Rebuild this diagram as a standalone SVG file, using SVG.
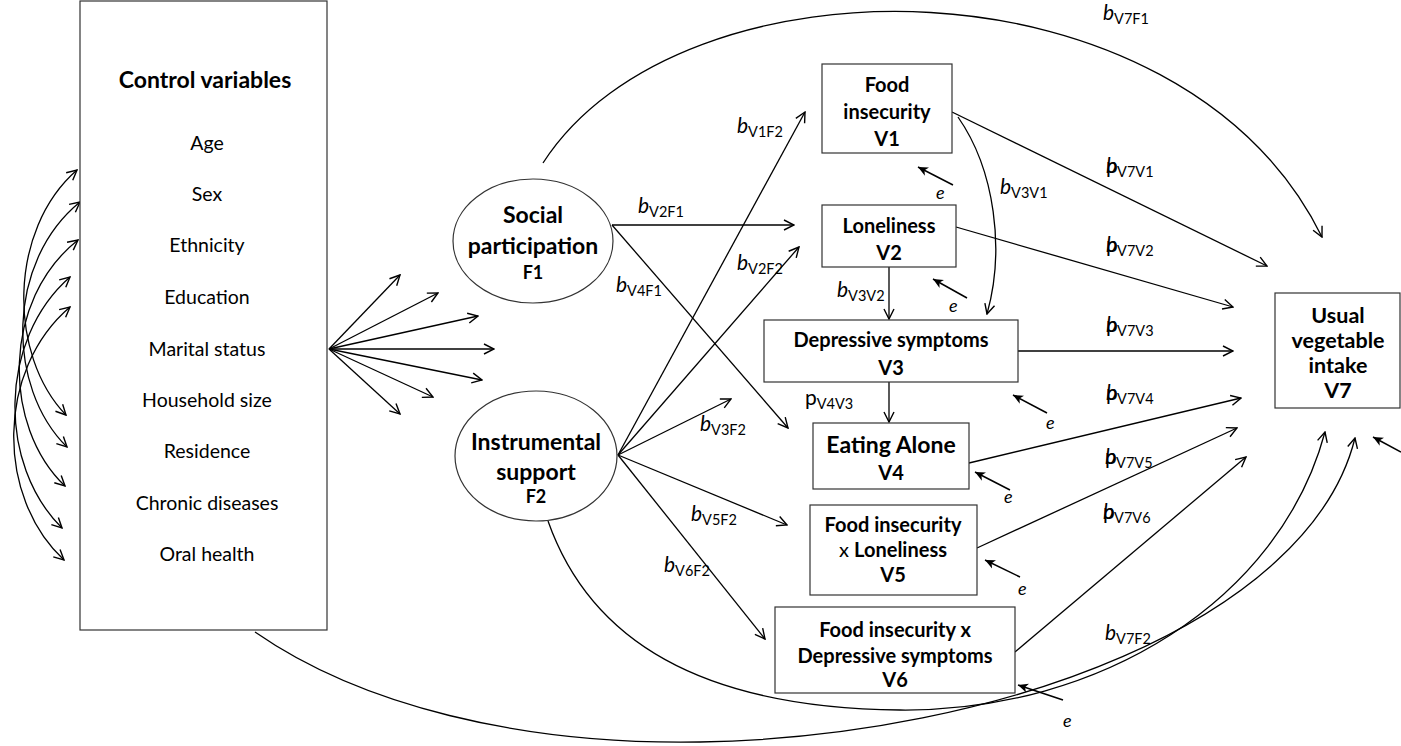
<svg xmlns="http://www.w3.org/2000/svg" width="1401" height="746" viewBox="0 0 1401 746">
  <defs>
    <marker id="arr" viewBox="0 0 12 12" refX="11" refY="6" markerWidth="12" markerHeight="12" markerUnits="userSpaceOnUse" orient="auto-start-reverse">
      <path d="M1,1 L11,6 L1,11" fill="none" stroke="#000" stroke-width="1.4"/>
    </marker>
    <marker id="err" viewBox="0 0 12 10" refX="11" refY="5" markerWidth="11" markerHeight="10" markerUnits="userSpaceOnUse" orient="auto">
      <path d="M0,0 L11,5 L0,10 L3,5 Z" fill="#000"/>
    </marker>
    <style>
      .box { fill: #fff; stroke: #333; stroke-width: 1.2; }
      .ell { fill: #fff; stroke: #333; stroke-width: 1.2; }
      .ln { fill: none; stroke: #000; stroke-width: 1.3; marker-end: url(#arr); }
      .dbl { fill: none; stroke: #000; stroke-width: 1.3; marker-start: url(#arr); marker-end: url(#arr); }
      .er { fill: none; stroke: #000; stroke-width: 1.5; marker-end: url(#err); }
      text { font-family: Lato, "Open Sans", "Liberation Sans", sans-serif; fill: #000; }
      .t { font-size: 20px; font-weight: bold; text-anchor: middle; }
      .tv { font-size: 21.5px; font-weight: bold; text-anchor: middle; }
      .tl { font-size: 23px; font-weight: bold; text-anchor: middle; }
      .tf { font-size: 18px; font-weight: bold; text-anchor: middle; }
      .cv { font-size: 19.5px; text-anchor: middle; }
      .lb { font-size: 21px; font-style: italic; }
      .lp { font-size: 21px; }
      .sub { font-size: 14.5px; font-style: normal; }
      .e { font-size: 18px; font-style: italic; }
    </style>
  </defs>

  <!-- connectors -->
  <g id="connectors">
    <!-- covariances among control variables -->
    <path class="dbl" d="M77,170 C 8,230 8,355 66,415"/>
    <path class="dbl" d="M80,202 C 6,262 6,387 67,447"/>
    <path class="dbl" d="M78,240 C 2,300 2,426 65,486"/>
    <path class="dbl" d="M70,277 C -2,340 -2,465 62,528"/>
    <path class="dbl" d="M70,307 C -4,370 -4,497 64,560"/>

    <!-- control variables fan -->
    <path class="ln" d="M329,349 L400,275"/>
    <path class="ln" d="M329,349 L438,293"/>
    <path class="ln" d="M329,349 L478,316"/>
    <path class="ln" d="M329,349 L494,349"/>
    <path class="ln" d="M329,349 L482,380"/>
    <path class="ln" d="M329,349 L433,397"/>
    <path class="ln" d="M329,349 L400,414"/>

    <!-- F1 paths -->
    <path class="ln" d="M543,163 C 680,-50 1180,-50 1322,237"/>
    <path class="ln" d="M612,225 L794,225"/>
    <path class="ln" d="M612,225 L788,428"/>

    <!-- F2 paths -->
    <path class="ln" d="M618,455 L805,112"/>
    <path class="ln" d="M618,455 L799,247"/>
    <path class="ln" d="M618,455 L731,399"/>
    <path class="ln" d="M618,455 L787,525"/>
    <path class="ln" d="M618,455 L765,639"/>
    <path class="ln" d="M548,521 C 590,640 700,708 900,710 C 1100,712 1280,600 1325,432"/>

    <!-- control variables to outcome -->
    <path class="ln" d="M255,632 C 360,705 520,745 700,742 C 1000,737 1310,620 1355,438"/>

    <!-- mediator paths -->
    <path class="ln" d="M889,267 L889,319"/>
    <path class="ln" d="M889,382 L889,422"/>
    <path class="ln" d="M958,117 C 995,170 1005,250 987,314"/>

    <!-- paths to V7 -->
    <path class="ln" d="M952,112 L1267,266"/>
    <path class="ln" d="M956,227 L1233,307"/>
    <path class="ln" d="M1018,351 L1233,351"/>
    <path class="ln" d="M969,463 L1241,398"/>
    <path class="ln" d="M977,548 L1237,428"/>
    <path class="ln" d="M1015,652 L1246,457"/>

    <!-- error terms -->
    <path class="er" d="M953,185 L918,167"/>
    <path class="er" d="M967,298 L933,279"/>
    <path class="er" d="M1047,413 L1013,395"/>
    <path class="er" d="M1010,490 L975,472"/>
    <path class="er" d="M1020,577 L985,560"/>
    <path class="er" d="M1063,700 L1018,685"/>
    <path class="er" d="M1401,452 L1373,437"/>
  </g>

  <!-- path labels -->
  <g id="labels">
    <text class="lb" x="1103" y="20">b<tspan class="sub" dy="4">V7F1</tspan></text>
    <text class="lb" x="638" y="213">b<tspan class="sub" dy="4">V2F1</tspan></text>
    <text class="lb" x="616" y="292">b<tspan class="sub" dy="4">V4F1</tspan></text>
    <text class="lb" x="737" y="133">b<tspan class="sub" dy="4">V1F2</tspan></text>
    <text class="lb" x="737" y="270">b<tspan class="sub" dy="4">V2F2</tspan></text>
    <text class="lb" x="700" y="431">b<tspan class="sub" dy="4">V3F2</tspan></text>
    <text class="lb" x="691" y="521">b<tspan class="sub" dy="4">V5F2</tspan></text>
    <text class="lb" x="664" y="572">b<tspan class="sub" dy="4">V6F2</tspan></text>
    <text class="lb" x="1105" y="640">b<tspan class="sub" dy="4">V7F2</tspan></text>
    <text class="lb" x="837" y="297">b<tspan class="sub" dy="4">V3V2</tspan></text>
    <text class="lb" x="1000" y="194">b<tspan class="sub" dy="4">V3V1</tspan></text>
    <text class="lp" x="805" y="405">p<tspan class="sub" dy="4">V4V3</tspan></text>

    <text class="lb" x="1106" y="173">b<tspan class="sub" dy="4">V7V1</tspan></text>
    <text class="lp" x="1106" y="173">p</text>
    <text class="lb" x="1106" y="252">b<tspan class="sub" dy="4">V7V2</tspan></text>
    <text class="lp" x="1106" y="252">p</text>
    <text class="lb" x="1106" y="332">b<tspan class="sub" dy="4">V7V3</tspan></text>
    <text class="lp" x="1106" y="332">p</text>
    <text class="lb" x="1106" y="400">b<tspan class="sub" dy="4">V7V4</tspan></text>
    <text class="lp" x="1106" y="400">p</text>
    <text class="lb" x="1105" y="464">b<tspan class="sub" dy="4">V7V5</tspan></text>
    <text class="lp" x="1105" y="464">p</text>
    <text class="lb" x="1103" y="519">b<tspan class="sub" dy="4">V7V6</tspan></text>
    <text class="lp" x="1103" y="519">p</text>

    <text class="e" x="936" y="199">e</text>
    <text class="e" x="949" y="312">e</text>
    <text class="e" x="1046" y="429">e</text>
    <text class="e" x="1004" y="503">e</text>
    <text class="e" x="1018" y="595">e</text>
    <text class="e" x="1063" y="727">e</text>
  </g>

  <!-- control variables -->
  <g id="control">
    <rect class="box" x="80" y="1" width="247" height="629"/>
    <text class="tl" x="205" y="88">Control variables</text>
    <text class="cv" x="207" y="150">Age</text>
    <text class="cv" x="207" y="201">Sex</text>
    <text class="cv" x="207" y="252">Ethnicity</text>
    <text class="cv" x="207" y="304">Education</text>
    <text class="cv" x="207" y="356">Marital status</text>
    <text class="cv" x="207" y="407">Household size</text>
    <text class="cv" x="207" y="458">Residence</text>
    <text class="cv" x="207" y="510">Chronic diseases</text>
    <text class="cv" x="207" y="561">Oral health</text>
  </g>

  <g id="F1">
    <ellipse class="ell" cx="533" cy="241" rx="80" ry="62"/>
    <text class="tl" x="533" y="223">Social</text>
    <text class="tl" x="533" y="254">participation</text>
    <text class="tf" x="533" y="279">F1</text>
  </g>

  <g id="F2">
    <ellipse class="ell" cx="536" cy="456" rx="81" ry="65"/>
    <text class="tl" x="536" y="450">Instrumental</text>
    <text class="tl" x="536" y="480">support</text>
    <text class="tf" x="536" y="503">F2</text>
  </g>

  <g id="V1">
    <rect class="box" x="822" y="64" width="130" height="89"/>
    <text class="t" x="887" y="92">Food</text>
    <text class="t" x="887" y="119">insecurity</text>
    <text class="t" x="887" y="146">V1</text>
  </g>

  <g id="V2">
    <rect class="box" x="822" y="205" width="134" height="62"/>
    <text class="t" x="889" y="233">Loneliness</text>
    <text class="t" x="889" y="260">V2</text>
  </g>

  <g id="V3">
    <rect class="box" x="764" y="320" width="254" height="62"/>
    <text class="t" x="891" y="347">Depressive symptoms</text>
    <text class="t" x="891" y="375">V3</text>
  </g>

  <g id="V4">
    <rect class="box" x="813" y="423" width="156" height="66"/>
    <text class="tl" x="891" y="453">Eating Alone</text>
    <text class="t" x="891" y="480">V4</text>
  </g>

  <g id="V5">
    <rect class="box" x="810" y="505" width="167" height="90"/>
    <text class="t" x="893" y="532">Food insecurity</text>
    <text class="t" x="893" y="557"><tspan font-weight="normal">x </tspan>Loneliness</text>
    <text class="t" x="893" y="582">V5</text>
  </g>

  <g id="V6">
    <rect class="box" x="775" y="607" width="240" height="86"/>
    <text class="t" x="895" y="637">Food insecurity x</text>
    <text class="t" x="895" y="663">Depressive symptoms</text>
    <text class="t" x="895" y="687">V6</text>
  </g>

  <g id="V7">
    <rect class="box" x="1275" y="293" width="125" height="115"/>
    <text class="tv" x="1338" y="323">Usual</text>
    <text class="tv" x="1338" y="348">vegetable</text>
    <text class="tv" x="1338" y="373">intake</text>
    <text class="tv" x="1338" y="398">V7</text>
  </g>
</svg>
